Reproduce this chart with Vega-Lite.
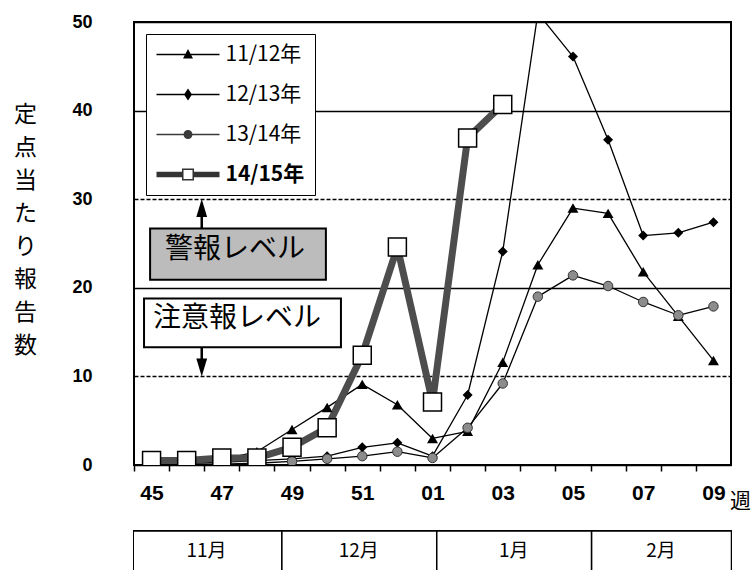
{
  "$schema": "https://vega.github.io/schema/vega-lite/v6.json",
  "background": "white",
  "padding": {"left": 12, "top": 12, "right": 4, "bottom": 0},
  "autosize": {"type": "pad"},
  "config": {
    "font": "Noto Sans CJK JP",
    "view": {"stroke": "black", "strokeWidth": 2}
  },
  "datasets": {
    "series": [
      {"week": "45", "date": "2014-11-06T12:00:00Z", "season": "11/12年", "value": 0.3},
      {"week": "46", "date": "2014-11-13T12:00:00Z", "season": "11/12年", "value": 0.4},
      {"week": "47", "date": "2014-11-20T12:00:00Z", "season": "11/12年", "value": 0.6},
      {"week": "48", "date": "2014-11-27T12:00:00Z", "season": "11/12年", "value": 1.5},
      {"week": "49", "date": "2014-12-04T12:00:00Z", "season": "11/12年", "value": 4.0},
      {"week": "50", "date": "2014-12-11T12:00:00Z", "season": "11/12年", "value": 6.5},
      {"week": "51", "date": "2014-12-18T12:00:00Z", "season": "11/12年", "value": 9.1},
      {"week": "52", "date": "2014-12-25T12:00:00Z", "season": "11/12年", "value": 6.8},
      {"week": "01", "date": "2015-01-01T12:00:00Z", "season": "11/12年", "value": 3.0},
      {"week": "02", "date": "2015-01-08T12:00:00Z", "season": "11/12年", "value": 3.8},
      {"week": "03", "date": "2015-01-15T12:00:00Z", "season": "11/12年", "value": 11.6},
      {"week": "04", "date": "2015-01-22T12:00:00Z", "season": "11/12年", "value": 22.6},
      {"week": "05", "date": "2015-01-29T12:00:00Z", "season": "11/12年", "value": 29.0},
      {"week": "06", "date": "2015-02-05T12:00:00Z", "season": "11/12年", "value": 28.4},
      {"week": "07", "date": "2015-02-12T12:00:00Z", "season": "11/12年", "value": 21.8},
      {"week": "08", "date": "2015-02-19T12:00:00Z", "season": "11/12年", "value": 16.8},
      {"week": "09", "date": "2015-02-26T12:00:00Z", "season": "11/12年", "value": 11.8},
      {"week": "45", "date": "2014-11-06T12:00:00Z", "season": "12/13年", "value": 0.2},
      {"week": "46", "date": "2014-11-13T12:00:00Z", "season": "12/13年", "value": 0.2},
      {"week": "47", "date": "2014-11-20T12:00:00Z", "season": "12/13年", "value": 0.3},
      {"week": "48", "date": "2014-11-27T12:00:00Z", "season": "12/13年", "value": 0.5},
      {"week": "49", "date": "2014-12-04T12:00:00Z", "season": "12/13年", "value": 0.7},
      {"week": "50", "date": "2014-12-11T12:00:00Z", "season": "12/13年", "value": 1.0},
      {"week": "51", "date": "2014-12-18T12:00:00Z", "season": "12/13年", "value": 2.0},
      {"week": "52", "date": "2014-12-25T12:00:00Z", "season": "12/13年", "value": 2.5},
      {"week": "01", "date": "2015-01-01T12:00:00Z", "season": "12/13年", "value": 1.0},
      {"week": "02", "date": "2015-01-08T12:00:00Z", "season": "12/13年", "value": 7.9},
      {"week": "03", "date": "2015-01-15T12:00:00Z", "season": "12/13年", "value": 24.1},
      {"week": "04", "date": "2015-01-22T12:00:00Z", "season": "12/13年", "value": 51.0},
      {"week": "05", "date": "2015-01-29T12:00:00Z", "season": "12/13年", "value": 46.1},
      {"week": "06", "date": "2015-02-05T12:00:00Z", "season": "12/13年", "value": 36.7},
      {"week": "07", "date": "2015-02-12T12:00:00Z", "season": "12/13年", "value": 25.9},
      {"week": "08", "date": "2015-02-19T12:00:00Z", "season": "12/13年", "value": 26.2},
      {"week": "09", "date": "2015-02-26T12:00:00Z", "season": "12/13年", "value": 27.4},
      {"week": "45", "date": "2014-11-06T12:00:00Z", "season": "13/14年", "value": 0.1},
      {"week": "46", "date": "2014-11-13T12:00:00Z", "season": "13/14年", "value": 0.1},
      {"week": "47", "date": "2014-11-20T12:00:00Z", "season": "13/14年", "value": 0.1},
      {"week": "48", "date": "2014-11-27T12:00:00Z", "season": "13/14年", "value": 0.2},
      {"week": "49", "date": "2014-12-04T12:00:00Z", "season": "13/14年", "value": 0.4},
      {"week": "50", "date": "2014-12-11T12:00:00Z", "season": "13/14年", "value": 0.7},
      {"week": "51", "date": "2014-12-18T12:00:00Z", "season": "13/14年", "value": 1.0},
      {"week": "52", "date": "2014-12-25T12:00:00Z", "season": "13/14年", "value": 1.5},
      {"week": "01", "date": "2015-01-01T12:00:00Z", "season": "13/14年", "value": 0.8},
      {"week": "02", "date": "2015-01-08T12:00:00Z", "season": "13/14年", "value": 4.2},
      {"week": "03", "date": "2015-01-15T12:00:00Z", "season": "13/14年", "value": 9.2},
      {"week": "04", "date": "2015-01-22T12:00:00Z", "season": "13/14年", "value": 19.0},
      {"week": "05", "date": "2015-01-29T12:00:00Z", "season": "13/14年", "value": 21.4},
      {"week": "06", "date": "2015-02-05T12:00:00Z", "season": "13/14年", "value": 20.2},
      {"week": "07", "date": "2015-02-12T12:00:00Z", "season": "13/14年", "value": 18.4},
      {"week": "08", "date": "2015-02-19T12:00:00Z", "season": "13/14年", "value": 16.9},
      {"week": "09", "date": "2015-02-26T12:00:00Z", "season": "13/14年", "value": 17.9},
      {"week": "45", "date": "2014-11-06T12:00:00Z", "season": "14/15年", "value": 0.5},
      {"week": "46", "date": "2014-11-13T12:00:00Z", "season": "14/15年", "value": 0.5},
      {"week": "47", "date": "2014-11-20T12:00:00Z", "season": "14/15年", "value": 0.8},
      {"week": "48", "date": "2014-11-27T12:00:00Z", "season": "14/15年", "value": 0.8},
      {"week": "49", "date": "2014-12-04T12:00:00Z", "season": "14/15年", "value": 2.0},
      {"week": "50", "date": "2014-12-11T12:00:00Z", "season": "14/15年", "value": 4.2},
      {"week": "51", "date": "2014-12-18T12:00:00Z", "season": "14/15年", "value": 12.4},
      {"week": "52", "date": "2014-12-25T12:00:00Z", "season": "14/15年", "value": 24.6},
      {"week": "01", "date": "2015-01-01T12:00:00Z", "season": "14/15年", "value": 7.1},
      {"week": "02", "date": "2015-01-08T12:00:00Z", "season": "14/15年", "value": 36.9},
      {"week": "03", "date": "2015-01-15T12:00:00Z", "season": "14/15年", "value": 40.7}
    ],
    "boxes": [
      {"label": "警報レベル", "x1": "2014-11-06T05:00:00Z", "x2": "2014-12-11T06:00:00Z", "y1": 26.7, "y2": 20.9, "xc": "2014-11-23T03:00:00Z", "yc": 24.3},
      {"label": "注意報レベル", "x1": "2014-11-05T00:00:00Z", "x2": "2014-12-14T06:00:00Z", "y1": 18.8, "y2": 13.3, "xc": "2014-11-23T13:00:00Z", "yc": 16.5}
    ],
    "arrows": [
      {"date": "2014-11-16T12:00:00Z", "dir": "up", "from": 26.7, "to": 29.0},
      {"date": "2014-11-16T12:00:00Z", "dir": "down", "from": 13.3, "to": 11.0}
    ],
    "months": [
      {"month": "2014-11-01", "label": "11月"},
      {"month": "2014-12-01", "label": "12月"},
      {"month": "2015-01-01", "label": "1月"},
      {"month": "2015-02-01", "label": "2月"}
    ]
  },
  "spacing": 66,
  "bounds": "flush",
  "vconcat": [
    {
      "width": 597,
      "height": 443,
      "resolve": {"axis": {"x": "independent", "y": "independent"}},
      "layer": [
        {
          "data": {"name": "boxes"},
          "mark": {"type": "rect", "stroke": "black", "strokeWidth": 2},
          "encoding": {
            "x": {"field": "x1", "type": "temporal", "scale": {"type": "utc", "domain": [{"year": 2014, "month": 11, "date": 3, "utc": true}, {"year": 2015, "month": 3, "date": 2, "utc": true}]}, "axis": null},
            "x2": {"field": "x2"},
            "y": {"field": "y1", "type": "quantitative", "scale": {"domain": [0, 50], "nice": false}, "axis": null},
            "y2": {"field": "y2"},
            "fill": {"field": "label", "type": "nominal", "scale": {"domain": ["警報レベル", "注意報レベル"], "range": ["#bcbcbc", "white"]}, "legend": null}
          }
        },
        {
          "data": {"name": "boxes"},
          "mark": {"type": "text", "fontSize": 28, "font": "Noto Sans CJK JP", "color": "black", "align": "center", "baseline": "middle"},
          "encoding": {
            "x": {"field": "xc", "type": "temporal", "axis": null},
            "y": {"field": "yc", "type": "quantitative", "axis": null},
            "text": {"field": "label"}
          }
        },
        {
          "data": {"name": "arrows"},
          "mark": {"type": "rule", "strokeWidth": 2.5, "color": "black"},
          "encoding": {
            "x": {"field": "date", "type": "temporal", "axis": null},
            "y": {"field": "from", "type": "quantitative", "axis": null},
            "y2": {"field": "to"}
          }
        },
        {
          "data": {"name": "arrows"},
          "transform": [{"filter": "datum.dir === 'up'"}],
          "mark": {"type": "point", "filled": true, "color": "black", "size": 324, "opacity": 1, "shape": "M0,-1L0.6,1L-0.6,1Z"},
          "encoding": {
            "x": {"field": "date", "type": "temporal", "axis": null},
            "y": {"field": "to", "type": "quantitative", "axis": null}
          }
        },
        {
          "data": {"name": "arrows"},
          "transform": [{"filter": "datum.dir === 'down'"}],
          "mark": {"type": "point", "filled": true, "color": "black", "size": 324, "opacity": 1, "shape": "M0,1L0.6,-1L-0.6,-1Z"},
          "encoding": {
            "x": {"field": "date", "type": "temporal", "axis": null},
            "y": {"field": "to", "type": "quantitative", "axis": null}
          }
        },
        {
          "data": {"name": "series"},
          "transform": [{"filter": "datum.season !== '14/15年'"}],
          "mark": {"type": "line", "clip": true, "strokeJoin": "round", "strokeWidth": 1.3},
          "encoding": {
            "x": {
              "field": "date", "type": "temporal",
              "axis": {
                "title": "週", "titleX": 606, "titleY": 36, "titleAlign": "center", "titleBaseline": "middle",
                "titleFontSize": 21, "titleFontWeight": "normal", "titleFont": "Noto Sans CJK JP", "titleColor": "black",
                "values": [
                  {"year": 2014, "month": 11, "date": 3, "utc": true},
                  {"year": 2014, "month": 11, "date": 10, "utc": true},
                  {"year": 2014, "month": 11, "date": 17, "utc": true},
                  {"year": 2014, "month": 11, "date": 24, "utc": true},
                  {"year": 2014, "month": 12, "date": 1, "utc": true},
                  {"year": 2014, "month": 12, "date": 8, "utc": true},
                  {"year": 2014, "month": 12, "date": 15, "utc": true},
                  {"year": 2014, "month": 12, "date": 22, "utc": true},
                  {"year": 2014, "month": 12, "date": 29, "utc": true},
                  {"year": 2015, "month": 1, "date": 5, "utc": true},
                  {"year": 2015, "month": 1, "date": 12, "utc": true},
                  {"year": 2015, "month": 1, "date": 19, "utc": true},
                  {"year": 2015, "month": 1, "date": 26, "utc": true},
                  {"year": 2015, "month": 2, "date": 2, "utc": true},
                  {"year": 2015, "month": 2, "date": 9, "utc": true},
                  {"year": 2015, "month": 2, "date": 16, "utc": true},
                  {"year": 2015, "month": 2, "date": 23, "utc": true}
                ],
                "labelExpr": "toNumber(utcFormat(datum.value, '%V')) % 2 == 1 ? utcFormat(datum.value, '%V') : ''",
                "labelOffset": 17.5,
                "labelFont": "'Liberation Sans Narrow', 'Liberation Sans', sans-serif",
                "labelFontSize": 21, "labelFontWeight": "bold", "labelColor": "black",
                "labelPadding": 11, "labelOverlap": false, "labelFlush": false, "labelBound": false,
                "tickSize": 6, "tickColor": "black", "tickWidth": 1.5,
                "domain": false, "grid": false
              }
            },
            "y": {
              "field": "value", "type": "quantitative",
              "axis": {
                "title": ["定", "点", "当", "た", "り", "報", "告", "数"],
                "titleAngle": 0, "titleX": -109, "titleY": 92, "titleAlign": "center", "titleBaseline": "middle",
                "titleFontSize": 23, "titleFontWeight": "normal", "titleLineHeight": 33, "titleColor": "black",
                "titleFont": "Noto Sans CJK JP",
                "values": [0, 10, 20, 30, 40, 50],
                "labelFont": "Liberation Sans", "labelFontSize": 18, "labelFontWeight": "bold", "labelColor": "black",
                "labelPadding": 42, "labelFlush": false,
                "ticks": false, "tickSize": 0, "domain": false,
                "grid": true, "gridColor": "black", "gridWidth": 1.3,
                "gridDash": {"condition": {"test": "datum.value == 10 || datum.value == 30", "value": [4, 2]}, "value": []}
              }
            },
            "color": {
              "field": "season", "type": "nominal",
              "scale": {"domain": ["11/12年", "12/13年", "13/14年", "14/15年"], "range": ["black", "black", "black", "#555555"]},
              "legend": {
                "title": null, "orient": "top-left", "offset": 12, "padding": 10,
                "strokeColor": "black", "fillColor": "white",
                "rowPadding": 18, "symbolOffset": 21.5, "labelOffset": 27,
                "labelFont": "Noto Sans CJK JP", "labelFontSize": 21, "labelColor": "black",
                "encode": {
                  "symbols": {
                    "update": {
                      "shape": {"signal": "datum.value === '11/12年' ? 'M-3.15,-0.07H3.15V0.07H-3.15ZM0,-0.55L0.5,0.4L-0.5,0.4Z' : datum.value === '12/13年' ? 'M-3.15,-0.07H3.15V0.07H-3.15ZM0,-0.6L0.4,0L0,0.6L-0.4,0Z' : datum.value === '13/14年' ? 'M-3.15,-0.07H3.15V0.07H-3.15ZM-0.45,0A0.45,0.45,0,1,1,0.45,0A0.45,0.45,0,1,1,-0.45,0Z' : 'M-3.15,-0.28H-0.6V0.28H-3.15ZM0.6,-0.28H3.15V0.28H0.6ZM-0.6,-0.6H0.6V0.6H-0.6ZM-0.45,-0.45V0.45H0.45V-0.45Z'"},
                      "size": {"value": 400},
                      "fill": {"signal": "datum.value === '14/15年' ? '#333333' : datum.value === '13/14年' ? '#3a3a3a' : 'black'"},
                      "stroke": {"value": "transparent"},
                      "strokeWidth": {"value": 0},
                      "opacity": {"value": 1}
                    }
                  },
                  "labels": {
                    "update": {
                      "fontWeight": {"signal": "datum.value === '14/15年' ? 'bold' : 'normal'"}
                    }
                  }
                }
              }
            }
          }
        },
        {
          "data": {"name": "series"},
          "transform": [{"filter": "datum.season === '14/15年'"}],
          "mark": {"type": "line", "clip": true, "strokeJoin": "round", "strokeWidth": 7, "color": "#4d4d4d"},
          "encoding": {
            "x": {"field": "date", "type": "temporal", "axis": null},
            "y": {"field": "value", "type": "quantitative", "axis": null}
          }
        },
        {
          "data": {"name": "series"},
          "transform": [{"filter": "datum.season === '11/12年'"}],
          "mark": {"type": "point", "shape": "triangle-up", "filled": true, "color": "black", "size": 120, "opacity": 1, "clip": true},
          "encoding": {
            "x": {"field": "date", "type": "temporal", "axis": null},
            "y": {"field": "value", "type": "quantitative", "axis": null}
          }
        },
        {
          "data": {"name": "series"},
          "transform": [{"filter": "datum.season === '12/13年'"}],
          "mark": {"type": "point", "shape": "diamond", "filled": true, "color": "black", "size": 100, "opacity": 1, "clip": true},
          "encoding": {
            "x": {"field": "date", "type": "temporal", "axis": null},
            "y": {"field": "value", "type": "quantitative", "axis": null}
          }
        },
        {
          "data": {"name": "series"},
          "transform": [{"filter": "datum.season === '13/14年'"}],
          "mark": {"type": "point", "shape": "circle", "filled": true, "fill": "#8c8c8c", "stroke": "#333333", "strokeWidth": 1, "size": 90, "opacity": 1, "clip": true},
          "encoding": {
            "x": {"field": "date", "type": "temporal", "axis": null},
            "y": {"field": "value", "type": "quantitative", "axis": null}
          }
        },
        {
          "data": {"name": "series"},
          "transform": [{"filter": "datum.season === '14/15年'"}],
          "mark": {"type": "point", "shape": "square", "filled": true, "fill": "white", "stroke": "black", "strokeWidth": 1.5, "size": 324, "opacity": 1, "clip": true},
          "encoding": {
            "x": {"field": "date", "type": "temporal", "axis": null},
            "y": {"field": "value", "type": "quantitative", "axis": null}
          }
        }
      ]
    },
    {
      "width": 597,
      "height": 40,
      "data": {"name": "months"},
      "layer": [
        {
          "mark": {"type": "rect", "fill": "white", "stroke": "black", "strokeWidth": 1.5, "clip": true},
          "encoding": {
            "x": {"field": "month", "timeUnit": "utcyearmonth", "type": "temporal", "scale": {"type": "utc", "domain": [{"year": 2014, "month": 11, "date": 1, "hours": 12, "utc": true}, {"year": 2015, "month": 3, "date": 1, "utc": true}]}, "axis": null}
          }
        },
        {
          "mark": {"type": "text", "fontSize": 19, "font": "Noto Sans CJK JP", "color": "black", "baseline": "middle"},
          "encoding": {
            "x": {"field": "month", "timeUnit": "utcyearmonth", "type": "temporal", "bandPosition": 0.5, "axis": null},
            "text": {"field": "label"}
          }
        }
      ]
    }
  ]
}
